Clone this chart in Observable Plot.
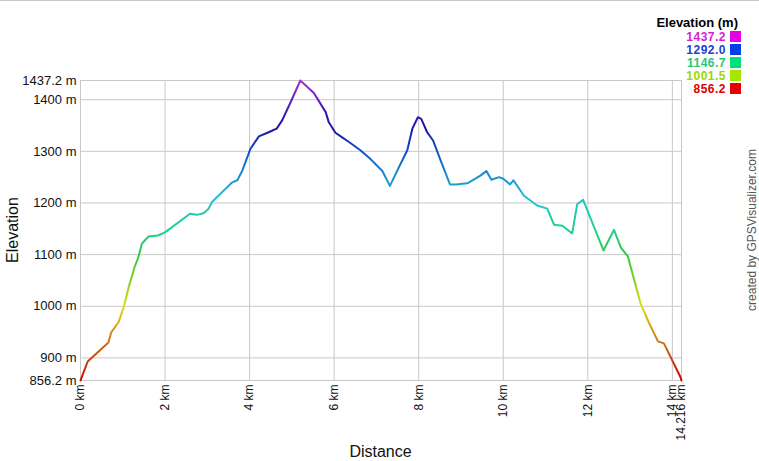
<!DOCTYPE html>
<html>
<head>
<meta charset="utf-8">
<script src="https://cdn.jsdelivr.net/npm/d3@7"></script>
<script src="https://cdn.jsdelivr.net/npm/@observablehq/plot@0.6"></script>
<style>
  html, body { margin: 0; padding: 0; background: #fff; }
  #wrap { position: relative; width: 759px; height: 461px; font-family: "Liberation Sans", Arial, sans-serif; overflow: hidden; }
  #topline { position: absolute; left: 0; top: 0; width: 759px; height: 1px; background: #c8c8c8; }
  #chart { position: absolute; left: 0; top: 0; }
  .title { position: absolute; font-size: 16px; color: #111; white-space: nowrap; }
  #legend { position: absolute; right: 18px; top: 14px; text-align: right; }
  #legend .lt { font-weight: bold; font-size: 13px; color: #000; line-height: 17px; height: 17px; margin-right: 3px; }
  #legend .row { font-weight: bold; font-size: 12px; letter-spacing: 0.5px; line-height: 13px; height: 13px; white-space: nowrap; overflow: visible; }
  #legend .sw { display: inline-block; width: 11px; height: 11px; vertical-align: -1px; margin-left: 4px; }
  #credit { position: absolute; font-size: 12px; color: #555; white-space: nowrap; }
</style>
</head>
<body>
<div id="wrap">
  <div id="topline"></div>
  <div id="chart"></div>
  <div id="legend"></div>
  <div class="title" id="ytitle">Elevation</div>
  <div class="title" id="xtitle">Distance</div>
  <div id="credit">created by GPSVisualizer.com</div>
</div>
<script>
// Track profile (distance km, elevation m)
const dist = [0, 0.17, 0.66, 0.73, 0.90, 1.02, 1.14, 1.28, 1.37, 1.45, 1.61, 1.83, 2.0, 2.59, 2.75, 2.91, 3.03, 3.11, 3.35, 3.59, 3.71, 3.83, 4.02, 4.22, 4.45, 4.64, 4.77, 4.97, 5.20, 5.52, 5.80, 5.87, 6.03, 6.19, 6.35, 6.62, 6.86, 7.14, 7.32, 7.53, 7.73, 7.85, 7.98, 8.06, 8.20, 8.34, 8.52, 8.74, 8.88, 9.15, 9.46, 9.60, 9.72, 9.90, 10.0, 10.16, 10.24, 10.49, 10.80, 11.04, 11.20, 11.40, 11.63, 11.75, 11.89, 12.37, 12.62, 12.78, 12.95, 13.09, 13.25, 13.44, 13.66, 13.80, 14.19, 14.216];
const elev = [856.2, 893, 930, 950, 969, 998, 1037, 1076, 1095, 1121, 1135, 1137, 1143, 1179, 1177, 1180, 1189, 1202, 1221, 1240, 1244, 1263, 1305, 1329, 1337, 1344, 1360, 1395, 1437.2, 1413, 1376, 1357, 1336, 1327, 1318, 1302, 1285, 1262, 1233, 1269, 1302, 1344, 1366, 1363, 1337, 1321, 1282, 1236, 1236, 1238, 1253, 1262, 1245, 1250, 1247, 1236, 1244, 1214, 1195, 1189, 1158, 1156, 1141, 1198, 1206, 1108, 1148, 1114, 1096, 1053, 1005, 969, 932, 928, 863, 856.2];

// Axis ticks
const xTicks = [0, 2, 4, 6, 8, 10, 12, 14, 14.216];
const yTicks = [856.2, 900, 1000, 1100, 1200, 1300, 1400, 1437.2];

// Legend
const legendValues = ["1437.2", "1292.0", "1146.7", "1001.5", "856.2"];
const legendText = ["#d21fd2", "#1c3fcc", "#1fc878", "#9ed600", "#dd0000"];
const legendBox = ["#e600e6", "#0040e6", "#00e07a", "#a6e600", "#e60000"];

// Line colour by elevation
const stopElev = [856.2, 900, 950, 1000, 1050, 1100, 1150, 1200, 1250, 1300, 1340, 1375, 1405, 1437.2];
const stopColor = ["#d40000", "#cc4412", "#d49018", "#d8e010", "#84d020", "#30cc40", "#20d090", "#20c8c8", "#1a90d0", "#1050c4", "#1818a8", "#3418b4", "#7020c4", "#b030d4"];

const data = dist.map((d, i) => ({d, e: elev[i]}));

const chart = Plot.plot({
  width: 759,
  height: 461,
  marginLeft: 80,
  marginRight: 78,
  marginTop: 80,
  marginBottom: 81,
  style: {fontFamily: "Liberation Sans, Arial, sans-serif", background: "transparent", color: "#111"},
  x: {domain: [0, 14.216], label: null},
  y: {domain: [856.2, 1437.2], label: null},
  marks: [
    Plot.ruleX(xTicks, {stroke: "#c8c8c8", strokeWidth: 1}),
    Plot.ruleY(yTicks, {stroke: "#c8c8c8", strokeWidth: 1}),
    Plot.line(data, {x: "d", y: "e", stroke: "url(#elevGrad)", strokeWidth: 2, strokeLinejoin: "round", curve: "linear"}),
    Plot.axisY({ticks: yTicks, tickFormat: d => `${d} m`, tickSize: 0, tickPadding: 4, fontSize: 13, label: null}),
    Plot.axisX({ticks: xTicks, tickFormat: d => `${d} km`, tickSize: 0, tickPadding: 4, tickRotate: -90, fontSize: 12, label: null})
  ]
});

// vertical gradient positioned with the chart's own y scale
const ys = chart.scale("y");
const sel = d3.select(chart);
const grad = sel.insert("defs", ":first-child").append("linearGradient")
  .attr("id", "elevGrad")
  .attr("gradientUnits", "userSpaceOnUse")
  .attr("x1", 0).attr("x2", 0)
  .attr("y1", ys.apply(856.2)).attr("y2", ys.apply(1437.2));
stopElev.forEach((e, i) => {
  grad.append("stop")
    .attr("offset", (e - 856.2) / (1437.2 - 856.2))
    .attr("stop-color", stopColor[i]);
});

document.getElementById("chart").appendChild(chart);

// legend
const lg = document.getElementById("legend");
lg.innerHTML = `<div class="lt">Elevation (m)</div>` + legendValues.map((v, i) =>
  `<div class="row" style="color:${legendText[i]}">${v}<span class="sw" style="background:${legendBox[i]}"></span></div>`).join("");

// titles
const xs = chart.scale("x");
const yt = document.getElementById("ytitle");
const ytw = yt.getBoundingClientRect().width;
yt.style.left = (13 - ytw / 2) + "px";
yt.style.top = (230 - 9) + "px";
yt.style.transform = "rotate(-90deg)";
const xt = document.getElementById("xtitle");
const xtw = xt.getBoundingClientRect().width;
xt.style.left = ((xs.apply(0) + xs.apply(14.216)) / 2 - xtw / 2) + "px";
xt.style.top = "443px";
const cr = document.getElementById("credit");
const crw = cr.getBoundingClientRect().width;
cr.style.left = (752 - crw / 2) + "px";
cr.style.top = (230 - 7) + "px";
cr.style.transform = "rotate(-90deg)";
</script>
</body>
</html>
